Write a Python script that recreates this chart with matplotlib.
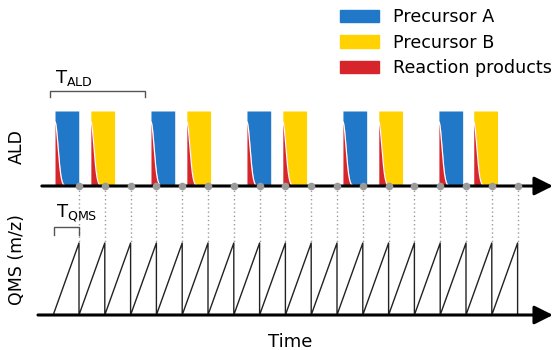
import numpy as np
import matplotlib.pyplot as plt
from matplotlib.patches import Patch

# time in units of one QMS scan
qms_scan_ends = [1, 2, 3, 4, 5, 6, 7, 8, 9, 10, 11, 12, 13, 14, 15, 16, 17, 18]
pulse_a_start = [0.07, 3.79, 7.51, 11.23, 14.95]
pulse_b_start = [1.46, 5.18, 8.90, 12.62, 16.30]
pulse_width = 0.92
t_ald = (-0.14, 3.56)
t_qms = (0.04, 1.0)

blue = '#2178c8'
yellow = '#ffd200'
red = '#d7262b'
grey = '#9b9b9b'

ald_base, ald_top = 164, 239
qms_base, qms_top = 35, 107
red_h0, red_w = 64, 0.17

fig = plt.figure(figsize=(5.53, 3.5), dpi=100)
ax = fig.add_axes([0, 0, 1, 1])
ax.set_xlim(-2.062, 19.372)
ax.set_ylim(0, 350)
ax.axis('off')


def pulse(x0, color):
    xs = np.linspace(x0, x0 + pulse_width, 300)
    h = red_h0 * np.exp(-((xs - x0) / red_w) ** 2)
    ax.fill_between(xs, ald_base + h, ald_top, color=color, lw=0, zorder=2)
    m = xs < x0 + 0.4
    ax.fill_between(xs[m], ald_base, ald_base + h[m], color=red, lw=0, zorder=2)
    ax.plot(xs[m], ald_base + h[m], color='white', lw=0.9, zorder=3)


for x0 in pulse_a_start:
    pulse(x0, blue)
for x0 in pulse_b_start:
    pulse(x0, yellow)

# axes lines with arrows
arrow = dict(arrowstyle='-|>,head_length=0.8,head_width=0.4', lw=2.2,
             color='black', mutation_scale=14, shrinkA=0, shrinkB=0)
ax.annotate('', xy=(19.37, ald_base), xytext=(-0.44, ald_base), arrowprops=arrow, zorder=4)
ax.annotate('', xy=(19.37, qms_base), xytext=(-0.59, qms_base), arrowprops=arrow, zorder=4)

# QMS sawtooth
sx, sy = [qms_scan_ends[0] - 1], [qms_base]
for t in qms_scan_ends:
    sx += [t, t]
    sy += [qms_top, qms_base]
ax.plot(sx, sy, color='#222222', lw=1, zorder=3)

# sampling points
for t in qms_scan_ends:
    ax.plot([t, t], [ald_base, qms_top], color=grey, lw=1, ls=(0, (1, 2)), zorder=1)
ax.plot(qms_scan_ends, [ald_base] * len(qms_scan_ends), 'o', color=grey, ms=5.5,
        mec='none', zorder=5)

# brackets
ax.plot([t_ald[0], t_ald[0], t_ald[1], t_ald[1]], [253, 259, 259, 253], color='#555555', lw=1)
ax.text(0.07, 267, r'$\mathregular{T_{ALD}}$', fontsize=13, ha='left', va='baseline')
ax.plot([t_qms[0], t_qms[0], t_qms[1], t_qms[1]], [115, 123, 123, 115], color='#555555', lw=1)
ax.text(0.1, 133, r'$\mathregular{T_{QMS}}$', fontsize=13, ha='left', va='baseline')

fig.text(17 / 553, 1 - 147 / 350, 'ALD', rotation=90, ha='center', va='center', fontsize=12.5)
fig.text(17 / 553, 1 - 260 / 350, 'QMS (m/z)', rotation=90, ha='center', va='center', fontsize=12.5)
fig.text(290 / 553, 1 - 342 / 350, 'Time', ha='center', va='center', fontsize=13)

handles = [Patch(color=blue), Patch(color=yellow), Patch(color=red)]
labels = ['Precursor A', 'Precursor B', 'Reaction products']
fig.legend(handles, labels, loc='upper left', bbox_to_anchor=(340 / 553, 1 - 8 / 350),
           frameon=False, fontsize=12.6, handlelength=2.24, handleheight=0.74,
           handletextpad=0.8, labelspacing=0.43, borderpad=0, borderaxespad=0)

fig.savefig('out.png', dpi=100)
